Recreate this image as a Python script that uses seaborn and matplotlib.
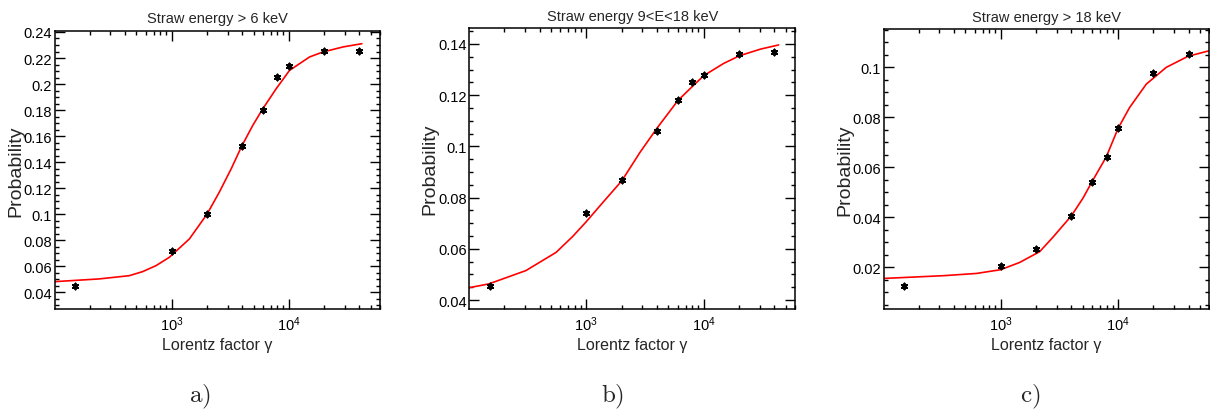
import matplotlib

matplotlib.use("Agg")
import matplotlib.pyplot as plt
import numpy as np
import pandas as pd
import seaborn as sns
from matplotlib import font_manager
from matplotlib.ticker import FixedLocator, FuncFormatter, LogLocator, MultipleLocator

# measured points (same gamma values in every panel)
GAMMA = [150, 1000, 2000, 4000, 6000, 8000, 10000, 20000, 40000]
PROB_A = [0.045, 0.072, 0.100, 0.1525, 0.180, 0.2054, 0.2135, 0.2254, 0.2254]
PROB_B = [0.0456, 0.0741, 0.0870, 0.1060, 0.1180, 0.1250, 0.1280, 0.1361, 0.1370]
PROB_C = [0.0127, 0.0207, 0.0272, 0.0405, 0.0541, 0.0642, 0.0755, 0.0976, 0.1053]

# fit curves
FIT_X_A = [100, 240, 435, 565, 735, 955, 1416, 2009, 2549, 3218, 3963, 4920, 5997, 7800, 10140, 15030, 19500, 29000, 42000]
FIT_Y_A = [0.0482, 0.0503, 0.0528, 0.0559, 0.0605, 0.0669, 0.0810, 0.1002, 0.1169, 0.1348, 0.1523, 0.1682, 0.1810, 0.1964, 0.2105, 0.2208, 0.2246, 0.2285, 0.2310]
FIT_X_B = [100, 148, 306, 553, 769, 1000, 1390, 2010, 2870, 4000, 6030, 8050, 10000, 14800, 20200, 30600, 43400]
FIT_Y_B = [0.0448, 0.0463, 0.0515, 0.0586, 0.0649, 0.0706, 0.0782, 0.0866, 0.0977, 0.1071, 0.1179, 0.1235, 0.1276, 0.1324, 0.1354, 0.1380, 0.1396]
FIT_X_C = [100, 323, 621, 1000, 1450, 2147, 2790, 4000, 5030, 5995, 7950, 10000, 12570, 17420, 25800, 39500, 59700]
FIT_Y_C = [0.0156, 0.0167, 0.0176, 0.0191, 0.0220, 0.0263, 0.0321, 0.0406, 0.0477, 0.0542, 0.0642, 0.0755, 0.0839, 0.0932, 0.0999, 0.1043, 0.1065]

TITLES = ["Straw energy > 6 keV", "Straw energy 9<E<18 keV", "Straw energy > 18 keV"]
PANEL_TAGS = ["a)", "b)", "c)"]
YLIMS = [(0.0272, 0.241), (0.0365, 0.1461), (0.0034, 0.1152)]

installed = {f.name for f in font_manager.fontManager.ttflist}
NARROW = "Liberation Sans Narrow" if "Liberation Sans Narrow" in installed else "Liberation Sans"

sns.set_theme(style="ticks")
plt.rcParams["font.family"] = [NARROW, "DejaVu Sans"]
plt.rcParams["mathtext.fontset"] = "custom"
plt.rcParams["mathtext.rm"] = NARROW
plt.rcParams["mathtext.it"] = NARROW


def style_axes(ax, ylim):
    ax.set_xscale("log")
    ax.set_xlim(101, 60000)
    ax.set_ylim(*ylim)
    ax.xaxis.set_major_locator(FixedLocator([1e3, 1e4]))
    ax.xaxis.set_minor_locator(LogLocator(base=10, subs=np.arange(2, 10), numticks=20))
    ax.xaxis.set_minor_formatter(FuncFormatter(lambda v, p: ""))
    ax.yaxis.set_major_locator(MultipleLocator(0.02))
    ax.yaxis.set_minor_locator(MultipleLocator(0.005))
    ax.yaxis.set_major_formatter(FuncFormatter(lambda v, p: f"{v:g}"))
    ax.tick_params(which="both", direction="in", top=True, right=True, colors="black", width=1.0)
    ax.tick_params(which="major", length=7, labelsize=10.5, pad=2)
    ax.tick_params(axis="x", which="major", pad=4)
    ax.tick_params(which="minor", length=3)
    for spine in ax.spines.values():
        spine.set_visible(True)
        spine.set_linewidth(1.1)
        spine.set_color("black")


fig = plt.figure(figsize=(12.1, 4.14), dpi=100)
positions = [
    [0.04545, 0.2512, 0.2686, 0.6723],
    [0.3879, 0.2512, 0.2692, 0.6780],
    [0.7306, 0.2512, 0.2688, 0.6763],
]
fits = [(FIT_X_A, FIT_Y_A), (FIT_X_B, FIT_Y_B), (FIT_X_C, FIT_Y_C)]
points = [PROB_A, PROB_B, PROB_C]
tag_x = [200, 613, 1030]

for i in range(3):
    ax = fig.add_axes(positions[i])
    fit_df = pd.DataFrame({"gamma": fits[i][0], "prob": fits[i][1]})
    pt_df = pd.DataFrame({"gamma": GAMMA, "prob": points[i]})
    sns.lineplot(data=fit_df, x="gamma", y="prob", color="red", linewidth=1.2, ax=ax)
    sns.scatterplot(
        data=pt_df, x="gamma", y="prob", marker=(6, 2, 0), s=18,
        color="black", edgecolor="black", linewidth=1.4, ax=ax, zorder=3,
    )
    style_axes(ax, YLIMS[i])
    ax.set_title(TITLES[i], fontsize=10.5, pad=6)
    ax.set_xlabel("Lorentz factor γ", fontsize=11.5, labelpad=3)
    ax.set_ylabel("Probability", fontsize=14, family=["Liberation Sans", "DejaVu Sans"])
    ax.yaxis.set_label_coords(-0.095, 0.5)
    fig.text(tag_x[i] / 1210, 1 - 397 / 414, r"$\mathrm{" + PANEL_TAGS[i] + "}$",
             math_fontfamily="cm", fontsize=18, ha="center", va="center")

fig.savefig("out.png", dpi=100)
